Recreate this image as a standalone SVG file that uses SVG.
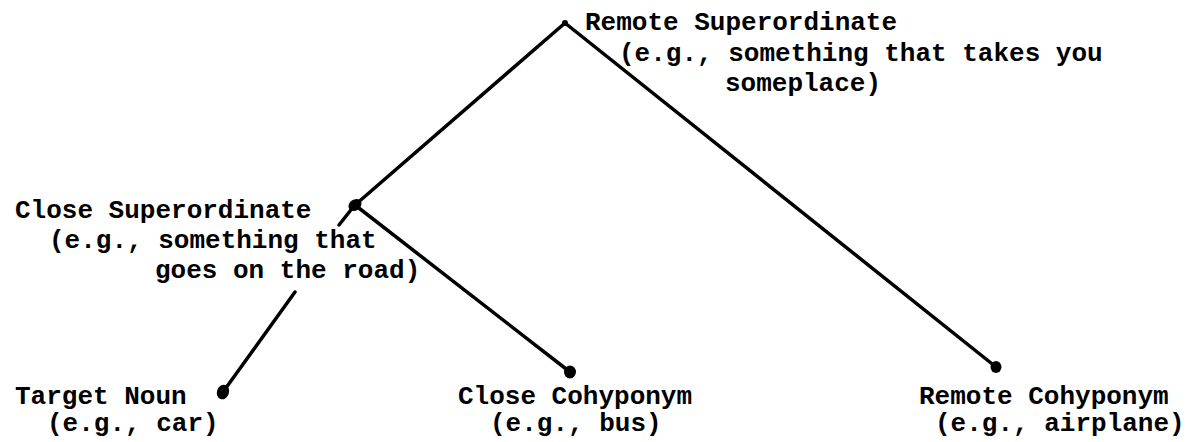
<svg xmlns="http://www.w3.org/2000/svg" width="1197" height="442" viewBox="0 0 1197 442">
<style>
.t{font-family:"Liberation Mono","DejaVu Sans Mono",monospace;font-weight:bold;font-size:26px;fill:#000}
.e{stroke:#000;stroke-width:3.5;fill:none;stroke-linecap:round}
.d{fill:#000}
</style>
<rect width="1197" height="442" fill="#fff"/>
<g id="connectors">
<line class="e" x1="565" y1="23" x2="355" y2="205"/>
<line class="e" x1="565" y1="23" x2="996" y2="367"/>
<line class="e" x1="355" y1="205" x2="570" y2="372"/>
<line class="e" x1="354" y1="206" x2="339" y2="225"/>
<line class="e" x1="295" y1="292" x2="223" y2="392"/>
</g>
<g id="remote-superordinate">
<circle class="d" cx="565" cy="23" r="3"/>
<text class="t" x="585" y="30">Remote Superordinate</text>
<text class="t" x="619" y="61">(e.g., something that takes you</text>
<text class="t" x="725" y="91">someplace)</text>
</g>
<g id="close-superordinate">
<ellipse class="d" cx="355" cy="205" rx="7" ry="5.5" transform="rotate(-35 355 205)"/>
<text class="t" x="15" y="218">Close Superordinate</text>
<text class="t" x="49" y="248">(e.g., something that</text>
<text class="t" x="155" y="278">goes on the road)</text>
</g>
<g id="target-noun">
<ellipse class="d" cx="223" cy="392" rx="6" ry="7.5" transform="rotate(20 223 392)"/>
<text class="t" x="15" y="404">Target Noun</text>
<text class="t" x="47" y="431">(e.g., car)</text>
</g>
<g id="close-cohyponym">
<ellipse class="d" cx="570" cy="372" rx="6" ry="6.5"/>
<text class="t" x="458" y="404">Close Cohyponym</text>
<text class="t" x="490" y="431">(e.g., bus)</text>
</g>
<g id="remote-cohyponym">
<ellipse class="d" cx="996" cy="367" rx="5.5" ry="6"/>
<text class="t" x="919" y="404">Remote Cohyponym</text>
<text class="t" x="935" y="431">(e.g., airplane)</text>
</g>
</svg>
